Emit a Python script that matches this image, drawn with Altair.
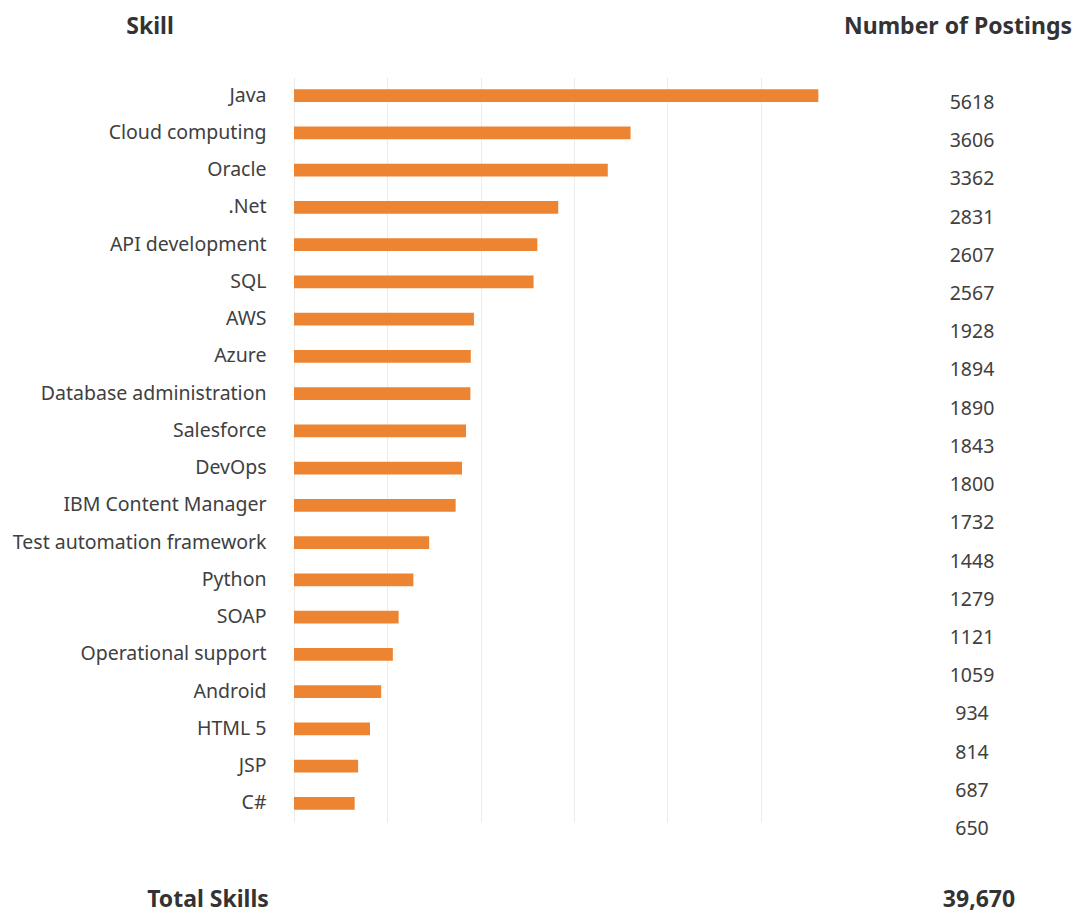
import altair as alt
import pandas as pd

skills = ["Java", "Cloud computing", "Oracle", ".Net", "API development", "SQL", "AWS",
          "Azure", "Database administration", "Salesforce", "DevOps", "IBM Content Manager",
          "Test automation framework", "Python", "SOAP", "Operational support", "Android",
          "HTML 5", "JSP", "C#"]
postings = [5618, 3606, 3362, 2831, 2607, 2567, 1928, 1894, 1890, 1843, 1800, 1732,
            1448, 1279, 1121, 1059, 934, 814, 687, 650]
grid_values = [0, 1000, 2000, 3000, 4000, 5000]

df = pd.DataFrame({"skill": skills, "postings": postings})
total = f"{sum(postings):,}"

FONT = "Noto Sans"
BAR = "#ED8431"
TXT = "#404040"

bars = alt.Chart(df).mark_bar(color=BAR).encode(
    x=alt.X("postings:Q", scale=alt.Scale(domain=[0, 6000], nice=False),
            axis=alt.Axis(values=grid_values, labels=False, ticks=False, domain=False,
                          title=None, grid=True, gridColor="#ececec", gridWidth=1)),
    y=alt.Y("skill:N", sort=skills,
            scale=alt.Scale(paddingInner=0.66, paddingOuter=0.33),
            axis=alt.Axis(title=None, ticks=False, domain=False, labelFontSize=19.5,
                          labelFont=FONT, labelColor=TXT, labelPadding=28, labelLimit=0)),
)

values = alt.Chart(df).mark_text(font=FONT, fontSize=19.5, color=TXT, align="center",
                                 baseline="middle").encode(
    x=alt.value(678),
    y=alt.Y("skill:N", sort=skills,
            scale=alt.Scale(type="point", range=[26, 752], padding=0),
            axis=None),
    text=alt.Text("postings:Q", format="d"),
)

one = alt.Data(values=[{}])

def header(txt, x, y, baseline="middle"):
    return alt.Chart(one).mark_text(text=txt, font=FONT, fontSize=23, fontWeight="bold",
                                    color="#333333", align="center",
                                    baseline=baseline).encode(
        x=alt.value(x), y=alt.value(y))

chart = alt.layer(
    bars, values,
    header("Skill", -144, -50),
    header("Number of Postings", 664, -50),
    header("Total Skills", -86, 830, "alphabetic"),
    header(total, 685, 830, "alphabetic"),
).resolve_scale(y="independent").properties(
    width=560, height=745,
    autosize=alt.AutoSizeParams(type="none"),
    padding={"left": 286, "top": 69, "right": 220, "bottom": 92},
).configure_view(stroke=None)

chart.save("out.html", embed_options={"renderer": "svg", "actions": False})
